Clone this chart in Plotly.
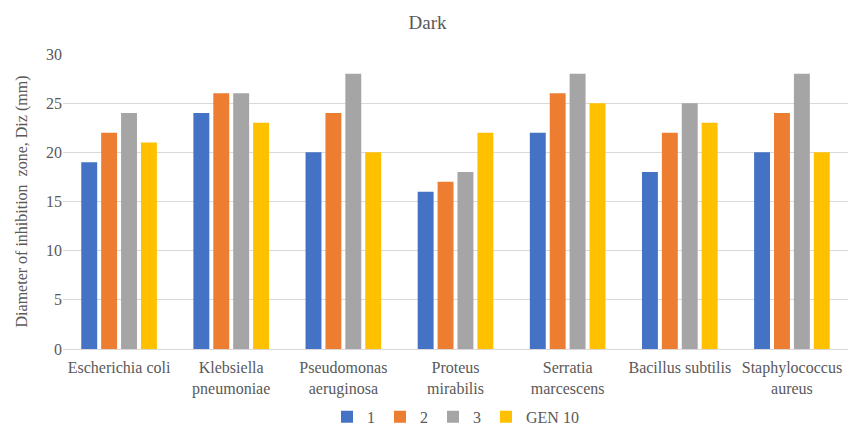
import plotly.graph_objects as go

categories = ["Escherichia coli", "Klebsiella<br>pneumoniae", "Pseudomonas<br>aeruginosa",
              "Proteus<br>mirabilis", "Serratia<br>marcescens", "Bacillus subtilis",
              "Staphylococcus<br>aureus"]
series_names = ["1", "2", "3", "GEN 10"]
s1 = [19, 24, 20, 16, 22, 18, 20]
s2 = [22, 26, 24, 17, 26, 22, 24]
s3 = [24, 26, 28, 18, 28, 25, 28]
gen10 = [21, 23, 20, 22, 25, 23, 20]
colors = ["#4472C4", "#ED7D31", "#A5A5A5", "#FFC000"]
y_ticks = [0, 5, 10, 15, 20, 25, 30]

FONT = "Liberation Serif"
GREY = "#595959"

fig = go.Figure()
for name, vals, c in zip(series_names, [s1, s2, s3, gen10], colors):
    fig.add_trace(go.Bar(x=categories, y=vals, name=name, marker_color=c,
                         marker_line_width=0))

fig.update_layout(
    width=855, height=428,
    paper_bgcolor="white", plot_bgcolor="white",
    margin=dict(l=63, r=7, t=54, b=79, autoexpand=False),
    barmode="group", bargap=0.29, bargroupgap=0.2,
    font=dict(family=FONT, color=GREY, size=16),
    title=dict(text="Dark", x=0.5, xanchor="center", y=0.948, yanchor="middle",
               font=dict(family=FONT, size=19, color=GREY)),
    legend=dict(orientation="h", x=0.5, xanchor="center", yref="container",
                y=0.026, yanchor="middle",
                font=dict(family=FONT, size=16, color=GREY), traceorder="normal",
                itemwidth=30, tracegroupgap=0),
    showlegend=True,
)
fig.update_yaxes(range=[0, 30], tickvals=y_ticks, showgrid=True, gridcolor="#D9D9D9",
                 gridwidth=1, zeroline=False, showline=False, ticks="",
                 automargin=False,
                 tickfont=dict(family=FONT, size=16, color=GREY),
                 title=dict(text="Diameter of inhibition  zone, Diz (mm)",
                            font=dict(family=FONT, size=16, color=GREY), standoff=14))
fig.update_xaxes(showline=True, linecolor="#D9D9D9", linewidth=1, ticks="",
                 automargin=False, ticklabelstandoff=4,
                 tickfont=dict(family=FONT, size=16, color=GREY))

fig.write_html("out.html")
